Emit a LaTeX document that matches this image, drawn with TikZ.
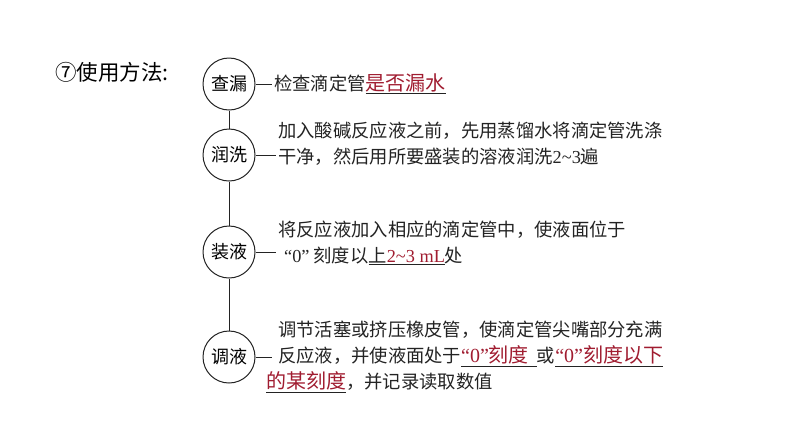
\documentclass[tikz,border=0pt]{standalone}
\usepackage{fontspec}
\setmainfont{Noto Sans CJK SC}
\newfontfamily\latin{Liberation Serif}
\usepackage{tikz}
\usetikzlibrary{positioning,calc}
\definecolor{myred}{RGB}{160,28,48}
\definecolor{mygray}{RGB}{35,35,35}
\newcommand{\ans}[1]{\underline{\textcolor{myred}{\fontsize{20}{26}\selectfont #1}}}
\newcommand{\tld}{\textasciitilde}

\begin{document}
\begin{tikzpicture}[x=1pt,y=-1pt,font=\fontsize{18.3}{26}\selectfont]
  \useasboundingbox (0,0) rectangle (794,445);
  \tikzset{
    stepcirc/.style={draw=mygray, line width=1pt, circle, minimum size=52pt,
                     inner sep=0pt, font=\fontsize{18}{20}\selectfont},
    desc/.style={align=left, inner sep=2pt, text=mygray},
    link/.style={draw=mygray, line width=1pt}
  }
  \node[anchor=west, inner sep=0pt, font=\fontsize{21.5}{24}\selectfont](title) at (55,72){⑦使用方法:};
  % steps
  \node[stepcirc](cl) at (229,84){查漏};
  \node[stepcirc](rx) at (229,155){润洗};
  \node[stepcirc](zy) at (229,252){装液};
  \node[stepcirc](ty) at (229,357){调液};
  \draw[link] (cl) -- (rx) -- (zy) -- (ty);
  % descriptions
  \node[desc, anchor=west](tcl) at (272,84){检查滴定管\ans{是否漏水}};
  \node[desc, anchor=west](trx) at (276,144){加入酸碱反应液之前，先用蒸馏水将滴定管洗涤\\
    干净，然后用所要盛装的溶液润洗{\latin 2\tld3}遍};
  \node[desc, anchor=west](tzy) at (276,243){将反应液加入相应的滴定管中，使液面位于\\
    \hspace*{6pt}{\latin “0”}\hspace{4pt}刻度以\underline{上\textcolor{myred}{\latin 2\tld3 mL}}处};
  \node[desc, anchor=west](tty) at (264,357){\hspace*{12pt}调节活塞或挤压橡皮管，使滴定管尖嘴部分充满\\
    \hspace*{12pt}反应液，并使液面处于\ans{{\latin “0”}刻度\hspace{8pt}}或\ans{{\latin “0”}刻度以下}\\
    \ans{的某刻度}，并记录读取数值};
  \coordinate (ety) at (272,357);
  \draw[link] (cl.east) -- (tcl.west);
  \draw[link] (rx.east) -- (rx.east -| trx.west);
  \draw[link] (zy.east) -- (zy.east -| tzy.west);
  \draw[link] (ty.east) -- (ety);
\end{tikzpicture}
\end{document}
